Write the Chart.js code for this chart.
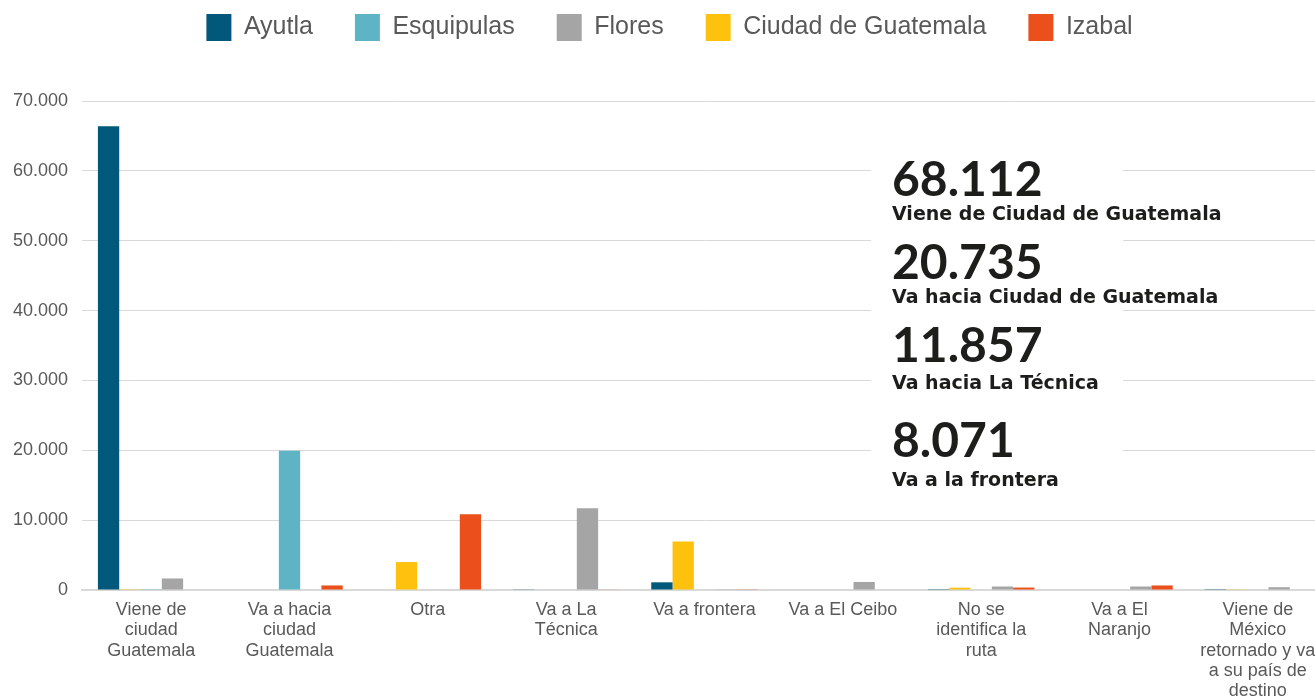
<!DOCTYPE html>
<html><head><meta charset="utf-8">
<script src="https://cdn.jsdelivr.net/npm/chart.js@4.4.0/dist/chart.umd.min.js"></script>
<style>html,body{margin:0;padding:0;background:#fff;overflow:hidden;width:1315px;height:698px;} #wrap{width:1327px;height:698px;position:relative;}</style>
</head><body><div id="wrap"><canvas id="c" width="1327" height="698"></canvas></div>
<script>
const categories = [
  ["Viene de","ciudad","Guatemala"],
  ["Va a hacia","ciudad","Guatemala"],
  ["Otra"],
  ["Va a La","Técnica"],
  ["Va a frontera"],
  ["Va a El Ceibo"],
  ["No se","identifica la","ruta"],
  ["Va a El","Naranjo"],
  ["Viene de","México","retornado y va","a su país de","destino"]
];
const legendOrder = ["Ayutla","Esquipulas","Flores","Ciudad de Guatemala","Izabal"];
const ayutla          = [66400,  70,     0,   100, 1100,    0, 120,   0, 120];
const ciudadGuatemala = [   30,  70,  4000,     0, 6950,    0, 330,   0, 100];
const esquipulas      = [   30, 19950,   0,     0,    0,    0,   0,   0,   0];
const flores          = [ 1650,   0,    80, 11700,   40, 1150, 500, 500, 400];
const izabal          = [    0, 650, 10850,    57,   40,    0, 350, 650,   0];
const yTickValues = [0,10000,20000,30000,40000,50000,60000,70000];
const highlightValues = ["68.112","20.735","11.857","8.071"];
const highlightLabels = ["Viene de Ciudad de Guatemala","Va hacia Ciudad de Guatemala","Va hacia La Técnica","Va a la frontera"];

const colors = {
  "Ayutla":"#02587a",
  "Esquipulas":"#5eb4c4",
  "Flores":"#a5a5a5",
  "Ciudad de Guatemala":"#fec10e",
  "Izabal":"#ea4f1c"
};

function fmt(v){ return String(v).replace(/\B(?=(\d{3})+(?!\d))/g, "."); }

const legendSpacer = {
  id:'legendSpacer',
  beforeInit(chart){
    const origFit = chart.legend.fit;
    chart.legend.fit = function(){
      origFit.bind(chart.legend)();
      this.height += 50;
    };
  },
  afterLayout(chart){
    chart.legend.left += 6;
    chart.legend.right += 6;
  }
};

const highlightPlugin = {
  id:'highlights',
  afterDraw(chart){
    const ctx = chart.ctx;
    ctx.save();
    ctx.fillStyle = '#ffffff';
    ctx.fillRect(871, 140, 252, 356);
    const x = 892;
    const numBase = [196, 279, 362, 457];
    const labBase = [220, 303, 389, 486];
    ctx.fillStyle = '#1d1d1b';
    ctx.textBaseline = 'alphabetic';
    ctx.textAlign = 'left';
    for (let i=0;i<highlightValues.length;i++){
      ctx.font = 'bold 48px Lato';
      ctx.fillText(highlightValues[i], x, numBase[i]);
      ctx.font = 'bold 19px "DejaVu Sans"';
      ctx.fillText(highlightLabels[i], x, labBase[i]);
    }
    ctx.restore();
  }
};

const seriesData = [
  ["Ayutla", ayutla],
  ["Ciudad de Guatemala", ciudadGuatemala],
  ["Esquipulas", esquipulas],
  ["Flores", flores],
  ["Izabal", izabal]
];

new Chart(document.getElementById('c'), {
  type:'bar',
  data:{
    labels: categories,
    datasets: seriesData.map(([name, vals]) => ({
      label: name,
      data: vals,
      backgroundColor: colors[name],
      borderWidth: 0,
      categoryPercentage: 0.77,
      barPercentage: 1.0
    }))
  },
  options:{
    responsive:false,
    maintainAspectRatio:false,
    animation:false,
    devicePixelRatio:1,
    layout:{ padding:{ top:-28, right:0, left:0, bottom:0 } },
    plugins:{
      tooltip:{enabled:false},
      legend:{
        position:'top',
        labels:{
          font:{family:'Liberation Sans, Arial, sans-serif', size:25},
          color:'#595959',
          boxWidth:25,
          boxHeight:27,
          padding:42,
          sort:(a,b)=>legendOrder.indexOf(a.text)-legendOrder.indexOf(b.text)
        }
      }
    },
    scales:{
      x:{
        grid:{display:false, drawTicks:false},
        border:{display:true, color:'#d9d9d9', width:2},
        afterFit(scale){ scale.height = 108; },
        ticks:{
          font:{family:'Liberation Sans, Arial, sans-serif', size:18, lineHeight:1.13},
          color:'#595959',
          maxRotation:0, autoSkip:false, padding:10
        }
      },
      y:{
        min:0, max:70000,
        afterBuildTicks(scale){ scale.ticks = yTickValues.map(v=>({value:v})); },
        afterFit(scale){ scale.width = 82; },
        grid:{color:'#d9d9d9', lineWidth:1, drawTicks:false},
        border:{display:false},
        ticks:{
          font:{family:'Liberation Sans, Arial, sans-serif', size:18},
          color:'#595959',
          padding:14,
          callback:(v)=>fmt(v)
        }
      }
    }
  },
  plugins:[legendSpacer, highlightPlugin]
});
</script>
</body></html>
